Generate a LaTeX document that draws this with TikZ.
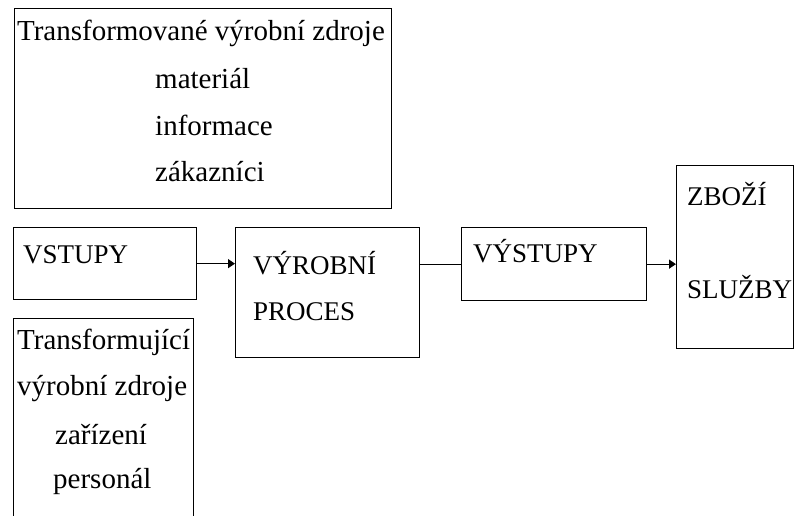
\documentclass[tikz,border=0pt]{standalone}
\usepackage{fontspec}
\setmainfont{Liberation Serif}
\usetikzlibrary{arrows.meta}
\begin{document}
\begin{tikzpicture}[x=1pt,y=-1pt,
 box/.style={draw, line width=1.3pt, rectangle, inner sep=0pt, anchor=north west},
 caps/.style={anchor=base west, inner sep=0pt, font=\fontsize{27}{27}\selectfont},
 low/.style={anchor=base west, inner sep=0pt, font=\fontsize{29}{29}\selectfont},
 conn/.style={line width=1.3pt},
 arr/.style={conn, -{Triangle[length=7pt,width=9pt]}}]
\useasboundingbox (0,0) rectangle (795,515);
\clip (0,0) rectangle (795,515);
\fill[white] (0,0) rectangle (795,515);
% boxes
\node[box, minimum width=377pt, minimum height=200pt] (top) at (14,8) {};
\node[box, minimum width=183pt, minimum height=72pt] (vstupy) at (13,227) {};
\node[box, minimum width=180pt, minimum height=230pt] (tfj) at (13,318) {};
\node[box, minimum width=184pt, minimum height=130pt] (proces) at (235,227) {};
\node[box, minimum width=185pt, minimum height=73pt] (vystupy) at (461,227) {};
\node[box, minimum width=117pt, minimum height=183pt] (zbozi) at (676,165) {};
% texts
\node[low, anchor=base] (t1) at (201,40) {Transformované výrobní zdroje};
\node[low] (t2) at (155,88) {materiál};
\node[low] (t3) at (155,135) {informace};
\node[low] (t4) at (155,181) {zákazníci};
\node[caps] (v1) at (23,263) {VSTUPY};
\node[caps] (p1) at (253,274) {VÝROBNÍ};
\node[caps] (p2) at (253,320) {PROCES};
\node[caps] (o1) at (473,262) {VÝSTUPY};
\node[caps] (z1) at (687,205) {ZBOŽÍ};
\node[caps] (z2) at (687,298) {SLUŽBY};
\node[low] (f1) at (17,349) {Transformující};
\node[low] (f2) at (17,395) {výrobní zdroje};
\node[low] (f3) at (55,444) {zařízení};
\node[low] (f4) at (53,488) {personál};
% connectors
\draw[arr] (vstupy.east) -- (vstupy.east -| proces.west);
\draw[conn] (proces.east |- vystupy.west) -- (vystupy.west);
\draw[arr] (vystupy.east) -- (vystupy.east -| zbozi.west);
\end{tikzpicture}
\end{document}
